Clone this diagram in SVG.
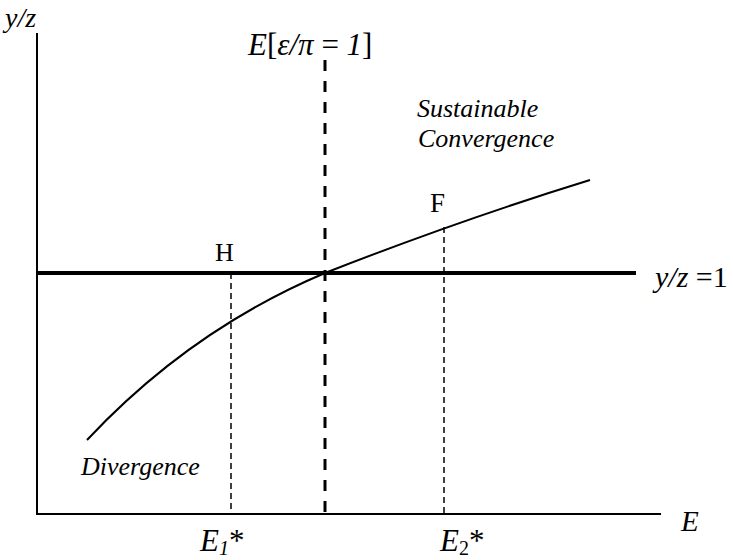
<svg xmlns="http://www.w3.org/2000/svg" width="733" height="560" viewBox="0 0 733 560">
<style>
.t{font-family:'Liberation Serif','DejaVu Serif',serif;fill:#000}
.it{font-style:italic}
.axis{stroke:#000;stroke-width:2;fill:none}
.thin{stroke:#000;stroke-width:1.5;stroke-dasharray:6 4;fill:none}
</style>
<rect width="733" height="560" fill="#fff"/>
<g id="axes">
<path class="axis" d="M37,33 V514 H661"/>
</g>
<g id="connectors">
<line x1="37" y1="273" x2="636" y2="273" stroke="#000" stroke-width="4"/>
<line x1="325" y1="60" x2="325" y2="514" stroke="#000" stroke-width="3" stroke-dasharray="11 10"/>
<line class="thin" x1="231" y1="273" x2="231" y2="514"/>
<line class="thin" x1="444" y1="227" x2="444" y2="514"/>
<path d="M87,440 Q190,330 325,273 Q460,220 590,180" fill="none" stroke="#000" stroke-width="2"/>
</g>
<g id="labels" class="t" font-family="'Liberation Serif','DejaVu Serif',serif">
<text x="5" y="27" font-size="28" class="it">y/z</text>
<text x="248" y="55" font-size="31"><tspan class="it">E</tspan>[<tspan class="it">ε/π</tspan> =  <tspan class="it">1</tspan>]</text>
<text x="417" y="117" font-size="26" class="it">Sustainable</text>
<text x="418" y="147" font-size="26" class="it">Convergence</text>
<text x="430" y="212" font-size="27">F</text>
<text x="215" y="261" font-size="26">H</text>
<text x="655" y="287" font-size="30"><tspan class="it">y/z</tspan> =1</text>
<text x="81" y="475" font-size="26" class="it">Divergence</text>
<text x="200" y="551" font-size="31"><tspan class="it">E</tspan><tspan class="it" font-size="20" dy="4">1</tspan><tspan dy="-4">*</tspan></text>
<text x="440" y="551" font-size="31"><tspan class="it">E</tspan><tspan font-size="20" dy="4">2</tspan><tspan dy="-4">*</tspan></text>
<text x="681" y="531" font-size="29" class="it">E</text>
</g>
</svg>
